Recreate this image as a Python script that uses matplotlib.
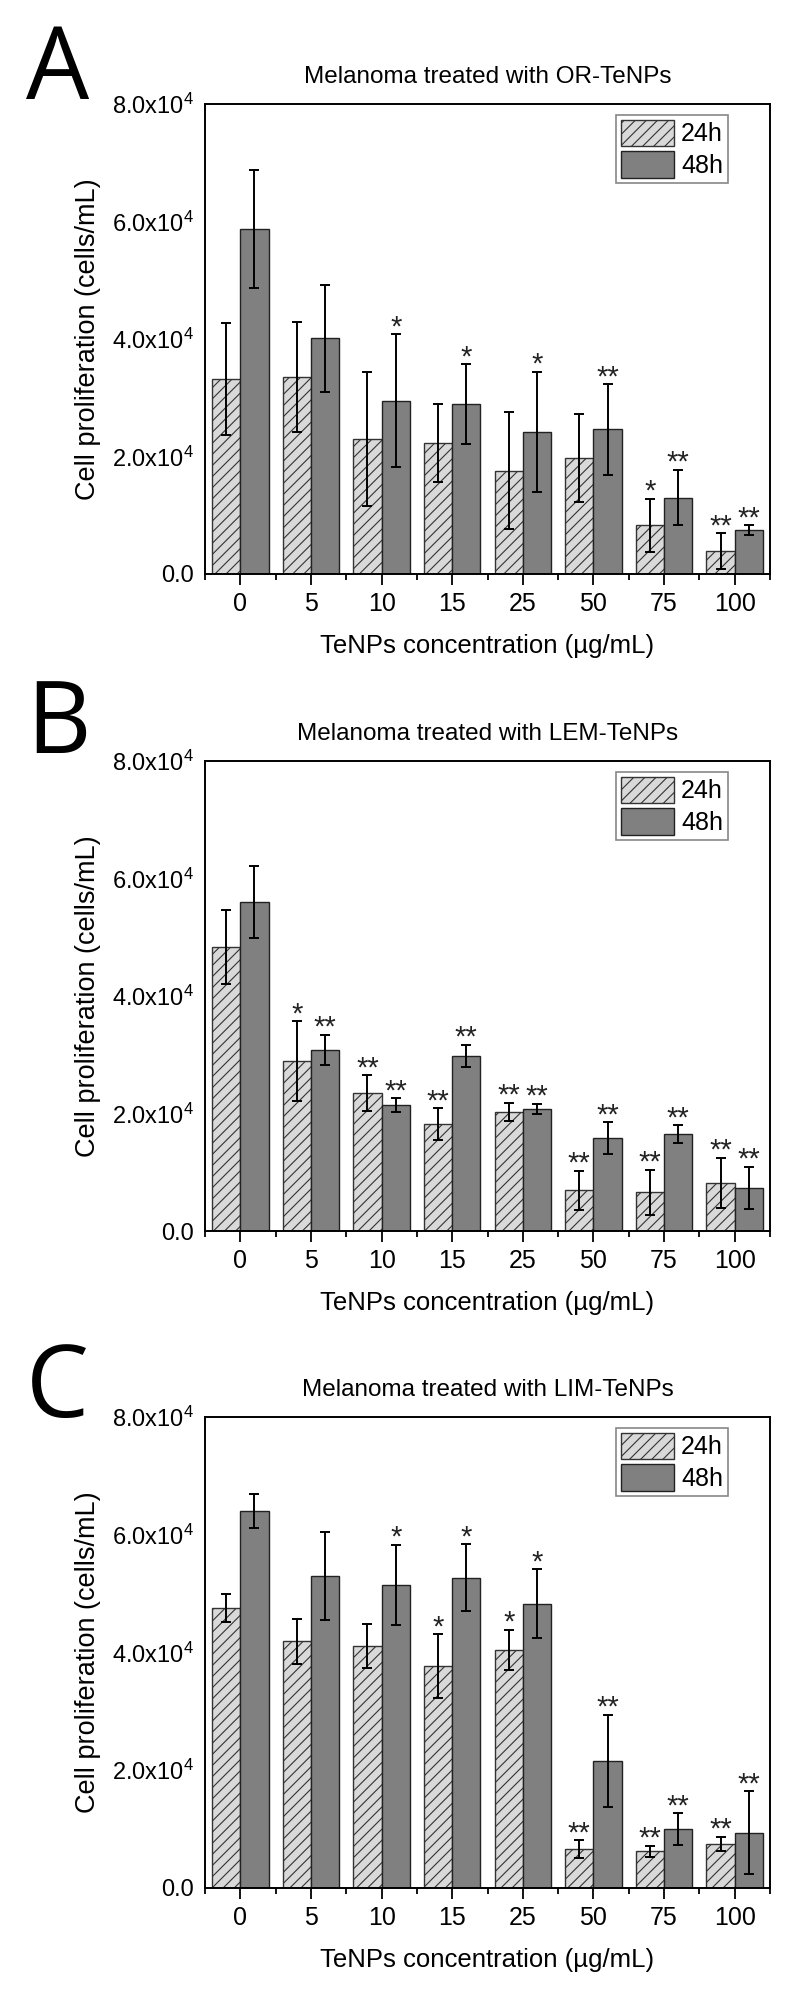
import matplotlib
matplotlib.use("Agg")
import matplotlib.pyplot as plt
import numpy as np

plt.rcParams['font.family'] = ['Liberation Sans', 'DejaVu Sans']
plt.rcParams['mathtext.fontset'] = 'custom'
plt.rcParams['mathtext.rm'] = 'Liberation Sans'
plt.rcParams['mathtext.it'] = 'Liberation Sans:italic'
plt.rcParams['hatch.linewidth'] = 0.8

# concentracoes (ug/mL)
concentracoes = ['0', '5', '10', '15', '25', '50', '75', '100']

# valores em 10^4 celulas/mL
or_24h = [3.32, 3.35, 2.30, 2.23, 1.76, 1.98, 0.83, 0.39]
or_24h_err = [0.95, 0.94, 1.14, 0.67, 1.00, 0.75, 0.45, 0.30]
or_48h = [5.87, 4.01, 2.95, 2.89, 2.42, 2.46, 1.30, 0.75]
or_48h_err = [1.00, 0.91, 1.13, 0.68, 1.02, 0.77, 0.47, 0.08]
or_sig_24h = ['', '', '', '', '', '', '*', '**']
or_sig_48h = ['', '', '*', '*', '*', '**', '**', '**']

lem_24h = [4.83, 2.89, 2.35, 1.82, 2.03, 0.69, 0.66, 0.82]
lem_24h_err = [0.63, 0.68, 0.30, 0.27, 0.15, 0.33, 0.38, 0.43]
lem_48h = [5.60, 3.08, 2.14, 2.98, 2.08, 1.58, 1.65, 0.73]
lem_48h_err = [0.62, 0.26, 0.12, 0.19, 0.09, 0.27, 0.15, 0.36]
lem_sig_24h = ['', '*', '**', '**', '**', '**', '**', '**']
lem_sig_48h = ['', '**', '**', '**', '**', '**', '**', '**']

lim_24h = [4.75, 4.19, 4.11, 3.77, 4.05, 0.66, 0.62, 0.75]
lim_24h_err = [0.24, 0.38, 0.38, 0.54, 0.34, 0.15, 0.10, 0.12]
lim_48h = [6.40, 5.30, 5.15, 5.27, 4.83, 2.16, 1.00, 0.94]
lim_48h_err = [0.29, 0.74, 0.68, 0.57, 0.58, 0.78, 0.27, 0.70]
lim_sig_24h = ['', '', '', '*', '*', '**', '**', '**']
lim_sig_48h = ['', '', '*', '*', '*', '**', '**', '**']

paineis = [
    ('A', 'Melanoma treated with OR-TeNPs', or_24h, or_24h_err, or_48h, or_48h_err, or_sig_24h, or_sig_48h),
    ('B', 'Melanoma treated with LEM-TeNPs', lem_24h, lem_24h_err, lem_48h, lem_48h_err, lem_sig_24h, lem_sig_48h),
    ('C', 'Melanoma treated with LIM-TeNPs', lim_24h, lim_24h_err, lim_48h, lim_48h_err, lim_sig_24h, lim_sig_48h),
]

W, H = 800, 2003
fig = plt.figure(figsize=(W / 100, H / 100), dpi=100)

# posicoes em pixels: (topo, base) de cada eixo e linha de base da letra
topos = [104, 761, 1417]
bases = [574, 1231, 1888]
letras_y = [99, 753, 1417]
esq, dir_ = 205, 770

x = np.arange(len(concentracoes))
largura = 0.4

for i, (letra, titulo, m24, e24, m48, e48, s24, s48) in enumerate(paineis):
    ax = fig.add_axes([esq / W, 1 - bases[i] / H, (dir_ - esq) / W, (bases[i] - topos[i]) / H])

    m24 = np.array(m24) * 1e4
    m48 = np.array(m48) * 1e4
    e24 = np.array(e24) * 1e4
    e48 = np.array(e48) * 1e4

    ax.bar(x - largura / 2, m24, largura, color='#d9d9d9', edgecolor='#333333',
           hatch='///', linewidth=1.0, label='24h', zorder=2)
    ax.bar(x + largura / 2, m48, largura, color='#808080', edgecolor='#222222',
           linewidth=1.0, label='48h', zorder=2)
    ax.errorbar(x - largura / 2, m24, yerr=e24, fmt='none', ecolor='black',
                elinewidth=1.4, capsize=3.5, capthick=1.4, zorder=3)
    ax.errorbar(x + largura / 2, m48, yerr=e48, fmt='none', ecolor='black',
                elinewidth=1.4, capsize=3.5, capthick=1.4, zorder=3)

    # asteriscos de significancia
    for xi, yi, ei, s in zip(x - largura / 2, m24, e24, s24):
        if s:
            ax.annotate(s, (xi, yi + ei), xytext=(0, -5), textcoords='offset points',
                        ha='center', va='bottom', fontsize=21, color='#222222')
    for xi, yi, ei, s in zip(x + largura / 2, m48, e48, s48):
        if s:
            ax.annotate(s, (xi, yi + ei), xytext=(0, -5), textcoords='offset points',
                        ha='center', va='bottom', fontsize=21, color='#222222')

    ax.set_xlim(-0.5, 7.5)
    ax.set_ylim(0, 8e4)
    ax.set_xticks(x)
    ax.set_xticklabels(concentracoes, fontsize=18)
    ax.set_xticks(np.arange(-0.5, 8, 1), minor=True)
    ax.tick_params(axis='x', which='major', direction='out', length=8, width=1.3, pad=5)
    ax.tick_params(axis='x', which='minor', direction='out', length=4.5, width=1.3)

    yt = [0, 2e4, 4e4, 6e4, 8e4]
    ax.set_yticks(yt)
    ax.set_yticklabels(['0.0'] + ['%.1fx10$^{4}$' % (v / 1e4) for v in yt[1:]], fontsize=17)
    ax.tick_params(axis='y', length=0, pad=8)

    for sp in ax.spines.values():
        sp.set_linewidth(1.4)

    ax.set_xlabel('TeNPs concentration (µg/mL)', fontsize=18.5, labelpad=13)
    ax.set_ylabel('Cell proliferation (cells/mL)', fontsize=19.5, labelpad=8)
    ax.set_title(titulo, fontsize=17.5, pad=15)

    leg = ax.legend(loc='upper right', bbox_to_anchor=(0.926, 0.977), borderaxespad=0,
                    fontsize=18, handlelength=2.1, handleheight=1.25, labelspacing=0.2,
                    borderpad=0.2, handletextpad=0.3, fancybox=False, framealpha=1)
    leg.get_frame().set_edgecolor('#888888')
    leg.get_frame().set_linewidth(1.2)

    fig.text(26 / W, 1 - letras_y[i] / H, letra, fontsize=72, family='Open Sans',
             ha='left', va='baseline')

fig.savefig('out.png', dpi=100)
